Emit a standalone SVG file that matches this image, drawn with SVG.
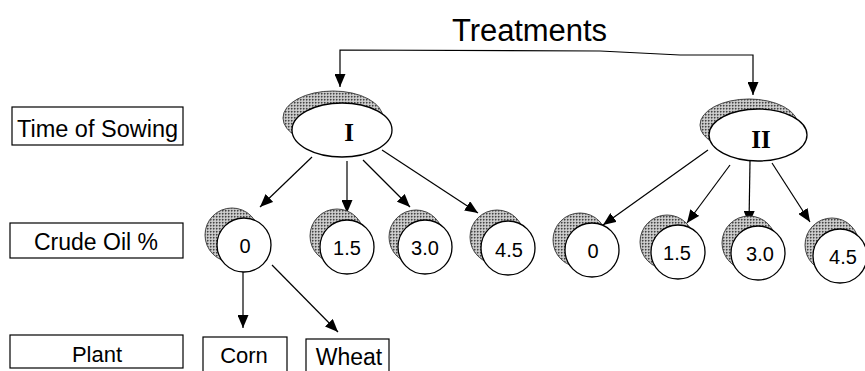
<svg xmlns="http://www.w3.org/2000/svg" width="865" height="371" viewBox="0 0 865 371">
<defs>
<pattern id="stip" width="3" height="3" patternUnits="userSpaceOnUse">
<rect width="3" height="3" fill="#bdbdbd"/>
<rect x="0" y="0" width="1.5" height="1.5" fill="#444"/>
<rect x="1.5" y="1.5" width="1" height="1" fill="#fff"/>
</pattern>
<marker id="ah" markerUnits="userSpaceOnUse" markerWidth="13" markerHeight="11" refX="13" refY="5.5" orient="auto-start-reverse">
<path d="M0,0 L13,5.5 L0,11 z" fill="#000"/>
</marker>
</defs>
<style>
.lbl{fill:#fff;stroke:#000;stroke-width:1.2}
.t{font-family:"Liberation Sans",Arial,sans-serif;fill:#000}
.sh{fill:url(#stip);stroke:#333;stroke-width:0.9}
.nd{fill:#fff;stroke:#000;stroke-width:1.3}
.num{font-family:"Liberation Sans",Arial,sans-serif;font-size:20px;text-anchor:middle;fill:#000}
.rom{font-family:"Liberation Serif","Times New Roman",serif;font-size:25px;font-weight:bold;text-anchor:middle;fill:#000}
.cn{fill:none;stroke:#000;stroke-width:1.2;marker-end:url(#ah)}
</style>

<g id="title">
<text class="t" x="452" y="41" font-size="31" textLength="155">Treatments</text>
</g>

<g id="label-time">
<rect class="lbl" x="12" y="107" width="171" height="38"/>
<text class="t" x="97.5" y="137" font-size="23.5" text-anchor="middle">Time of Sowing</text>
</g>
<g id="label-crude">
<rect class="lbl" x="10" y="223" width="173" height="35"/>
<text class="t" x="96" y="250" font-size="23" text-anchor="middle">Crude Oil %</text>
</g>
<g id="label-plant">
<rect class="lbl" x="10" y="335" width="173" height="33"/>
<text class="t" x="97" y="362" font-size="22" text-anchor="middle">Plant</text>
</g>

<g id="connectors">
<path d="M340,87 V50 L600,51 L680,55 H753 V95" fill="none" stroke="#000" stroke-width="1.2" marker-start="url(#ah)" marker-end="url(#ah)"/>
<path class="cn" d="M312,157 L260,207"/>
<path class="cn" d="M347,161 L347,213"/>
<path class="cn" d="M363,160 L410,207"/>
<path class="cn" d="M382,150 L478,213"/>
<path class="cn" d="M708,150 L603,225"/>
<path class="cn" d="M730,165 L687,223"/>
<path class="cn" d="M750,161 L749,224"/>
<path class="cn" d="M772,163 L810,222"/>
<path class="cn" d="M243,272 L243,328"/>
<path class="cn" d="M272,265 L338,332"/>
</g>

<g id="sow-I">
<ellipse class="sh" cx="333" cy="118" rx="50" ry="27"/>
<ellipse class="nd" cx="342" cy="130" rx="50" ry="27"/>
<text class="rom" x="349" y="141">I</text>
</g>
<g id="sow-II">
<ellipse class="sh" cx="749" cy="125" rx="49" ry="26"/>
<ellipse class="nd" cx="758" cy="135" rx="49" ry="26"/>
<text class="rom" x="761" y="148">II</text>
</g>

<g id="oil-I-0">
<circle class="sh" cx="232" cy="235" r="27"/>
<circle class="nd" cx="244" cy="245" r="27"/>
<text class="num" x="245" y="253">0</text>
</g>
<g id="oil-I-15">
<circle class="sh" cx="337" cy="236" r="27"/>
<circle class="nd" cx="347" cy="247" r="27"/>
<text class="num" x="347" y="255">1.5</text>
</g>
<g id="oil-I-30">
<circle class="sh" cx="416" cy="237" r="27"/>
<circle class="nd" cx="425" cy="247" r="27"/>
<text class="num" x="425" y="255">3.0</text>
</g>
<g id="oil-I-45">
<circle class="sh" cx="497" cy="237" r="27"/>
<circle class="nd" cx="508" cy="248" r="27"/>
<text class="num" x="509" y="257">4.5</text>
</g>
<g id="oil-II-0">
<circle class="sh" cx="580" cy="240" r="27"/>
<circle class="nd" cx="592" cy="250" r="27"/>
<text class="num" x="593" y="258">0</text>
</g>
<g id="oil-II-15">
<circle class="sh" cx="667" cy="242" r="27"/>
<circle class="nd" cx="678" cy="252" r="27"/>
<text class="num" x="677" y="260">1.5</text>
</g>
<g id="oil-II-30">
<circle class="sh" cx="749" cy="243" r="27"/>
<circle class="nd" cx="758" cy="253" r="27"/>
<text class="num" x="760" y="261">3.0</text>
</g>
<g id="oil-II-45">
<circle class="sh" cx="832" cy="245" r="27"/>
<circle class="nd" cx="840" cy="256" r="27"/>
<text class="num" x="843" y="264">4.5</text>
</g>

<g id="plant-corn">
<rect class="lbl" x="203" y="337" width="84" height="40"/>
<text class="t" x="244" y="363" font-size="22" text-anchor="middle">Corn</text>
</g>
<g id="plant-wheat">
<rect class="lbl" x="306" y="339" width="83" height="40"/>
<text class="t" x="349" y="365" font-size="23" text-anchor="middle">Wheat</text>
</g>
</svg>
